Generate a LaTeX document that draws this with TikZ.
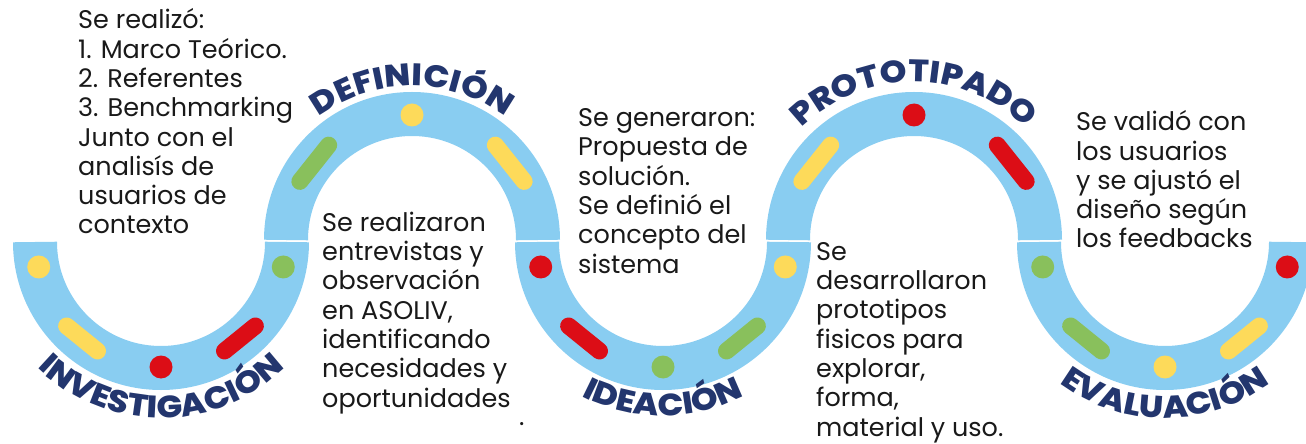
\documentclass[tikz,border=0pt]{standalone}
\usepackage{fontspec}
\setmainfont{Poppins}
\newfontfamily\stagefam{Poppins ExtraBold}[FakeStretch=1.1]
\usetikzlibrary{decorations.text}
\definecolor{ringblue}{HTML}{89CDF1}
\definecolor{dotyellow}{HTML}{FDDA5A}
\definecolor{dotgreen}{HTML}{89C05C}
\definecolor{dotred}{HTML}{DC0D16}
\definecolor{titlenavy}{HTML}{23366E}
\newcommand{\stagefont}{\stagefam\fontsize{31}{31}\selectfont}
\tikzset{
    band/.style={draw=ringblue, line width=44pt},
    blob/.style={circle, inner sep=0pt, minimum size=23pt},
    bar/.style={line width=17pt, line cap=round},
    note/.style={
        align=left, anchor=base west, inner sep=0pt,
        font=\fontsize{25.5}{29.3}\selectfont, text=black!90
    },
    stagetitle/.style={decorate, decoration={text along path,
        text align=center, text color=titlenavy, text={|\stagefont|#1}}}
}

\begin{document}
\begin{tikzpicture}[x=1pt, y=1pt]
\useasboundingbox (0,-203) rectangle (1306,241);

% Ring centres
\coordinate (c1) at (161,0);
\coordinate (c2) at (412,0);
\coordinate (c3) at (663,0);
\coordinate (c4) at (914,0);
\coordinate (c5) at (1165,0);

% Bands
\draw[band] ([yshift=-1pt]c1) ++(180:126) arc (180:360:126);
\draw[band] ([yshift=1pt]c2) ++(180:126) arc (180:0:126);
\draw[band] ([yshift=-1pt]c3) ++(180:126) arc (180:360:126);
\draw[band] ([yshift=1pt]c4) ++(180:126) arc (180:0:126);
\draw[band] ([yshift=-1pt]c5) ++(180:126) arc (180:360:126);

% Investigacion
\node[blob, fill=dotyellow] (d1a) at ([shift={(192:125)}]c1) {};
\draw[bar, dotyellow] ([shift={(222:127)}]c1) -- ([shift={(240:127)}]c1);
\node[blob, fill=dotred] (d1b) at ([shift={(270:126)}]c1) {};
\draw[bar, dotred] ([shift={(300:127)}]c1) -- ([shift={(318:127)}]c1);
\node[blob, fill=dotgreen] (d1c) at ([shift={(348:125)}]c1) {};
\path[stagetitle=INVESTIGACIÓN] ([shift={(200:177)}]c1) arc (200:340:177);

% Definicion
\draw[bar, dotgreen] ([shift={(131:127)}]c2) -- ([shift={(152:127)}]c2);
\node[blob, fill=dotyellow] (d2a) at ([shift={(90:126)}]c2) {};
\draw[bar, dotyellow] ([shift={(28:127)}]c2) -- ([shift={(49:127)}]c2);
\path[stagetitle=DEFINICIÓN] ([shift={(160:155)}]c2) arc (160:20:155);

% Ideacion
\node[blob, fill=dotred] (d3a) at ([shift={(192:125)}]c3) {};
\draw[bar, dotred] ([shift={(222:127)}]c3) -- ([shift={(240:127)}]c3);
\node[blob, fill=dotgreen] (d3b) at ([shift={(270:126)}]c3) {};
\draw[bar, dotgreen] ([shift={(300:127)}]c3) -- ([shift={(318:127)}]c3);
\node[blob, fill=dotyellow] (d3c) at ([shift={(348:125)}]c3) {};
\path[stagetitle=IDEACIÓN] ([shift={(200:175)}]c3) arc (200:340:175);

% Prototipado
\draw[bar, dotyellow] ([shift={(131:127)}]c4) -- ([shift={(152:127)}]c4);
\node[blob, fill=dotred] (d4a) at ([shift={(90:126)}]c4) {};
\draw[bar, dotred] ([shift={(28:127)}]c4) -- ([shift={(49:127)}]c4);
\path[stagetitle=PROTOTIPADO] ([shift={(160:159)}]c4) arc (160:20:159);

% Evaluacion
\node[blob, fill=dotgreen] (d5a) at ([shift={(192:125)}]c5) {};
\draw[bar, dotgreen] ([shift={(222:127)}]c5) -- ([shift={(240:127)}]c5);
\node[blob, fill=dotyellow] (d5b) at ([shift={(270:126)}]c5) {};
\draw[bar, dotyellow] ([shift={(300:127)}]c5) -- ([shift={(318:127)}]c5);
\node[blob, fill=dotred] (d5c) at ([shift={(348:125)}]c5) {};
\path[stagetitle=EVALUACIÓN] ([shift={(200:177)}]c5) arc (200:340:177);

% Notes
\node[note] (inv) at (78,7) {Se realizó:\\1. Marco Teórico.\\2. Referentes\\3. Benchmarking\\Junto con el\\analisís de\\usuarios de\\contexto};
\node[note] (def) at (322,-166) {Se realizaron\\entrevistas y\\observación\\en ASOLIV,\\identificando\\necesidades y\\oportunidades};
\node[note] (pt) at (519,-184) {.};
\node[note] (ide) at (578,-32) {Se generaron:\\Propuesta de\\solución.\\Se definió el\\concepto del\\sistema};
\node[note] (pro) at (816,-195) {Se\\desarrollaron\\prototipos\\fisicos para\\explorar,\\forma,\\material y uso.};
\node[note] (eva) at (1076,-7) {Se validó con\\los usuarios\\y se ajustó el\\diseño según\\los feedbacks};

\end{tikzpicture}
\end{document}
